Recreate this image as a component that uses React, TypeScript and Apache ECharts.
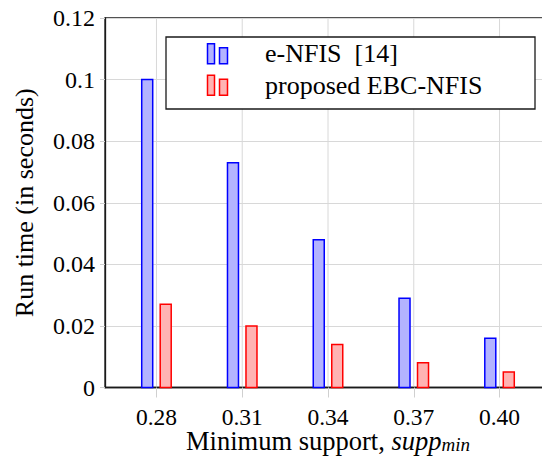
import React, { useEffect, useRef } from "react";
import * as echarts from "echarts";

const xLabels = ["0.28", "0.31", "0.34", "0.37", "0.40"];
const eNFIS = [0.1, 0.073, 0.048, 0.029, 0.016];
const ebcNFIS = [0.027, 0.02, 0.014, 0.008, 0.005];
const seriesNames = ["e-NFIS  [14]", "proposed EBC-NFIS"];
const yTitle = "Run time (in seconds)";
const yMax = 0.12;

const FONT = "Liberation Serif";

function makeRender(offset: number, fill: string, stroke: string) {
  return (params: any, api: any) => {
    const i = api.value(0);
    const v = api.value(1);
    const top = api.coord([i, v]);
    const base = api.coord([i, 0]);
    const w = 11;
    return {
      type: "rect",
      shape: { x: top[0] + offset - w / 2, y: top[1], width: w, height: base[1] - top[1] },
      style: { fill, stroke, lineWidth: 1.5 },
    };
  };
}

function renderGridLine(params: any, api: any) {
  const i = api.value(0);
  const top = api.coord([i, yMax]);
  const base = api.coord([i, 0]);
  return {
    type: "line",
    shape: { x1: top[0], y1: top[1], x2: base[0], y2: base[1] },
    style: { stroke: "#d8d8d8", lineWidth: 1 },
  };
}

const ICON = "path://M0,0H7V20H0Z M12,4H20V20H12Z";

export default function App() {
  const ref = useRef<HTMLDivElement>(null);
  useEffect(() => {
    if (!ref.current) return;
    const chart = echarts.init(ref.current, null, { renderer: "svg" });
    const ticks = xLabels.map((_, i) => i);
    chart.setOption({
      animation: false,
      textStyle: { fontFamily: FONT, color: "#000" },
      grid: {
        left: 105,
        top: 18,
        right: -9,
        bottom: 70.5,
        containLabel: false,
        outerBoundsMode: "none",
        show: true,
        borderColor: "#1a1a1a",
        borderWidth: 1.3,
        backgroundColor: "transparent",
      },
      xAxis: {
        type: "value",
        min: -0.6,
        max: 4.6,
        splitLine: { show: false },
        axisLine: { show: true, onZero: false, lineStyle: { color: "#1a1a1a", width: 1.3 } },
        axisTick: {
          show: true,
          customValues: ticks,
          length: 10,
          lineStyle: { color: "#d0d0d0", width: 1 },
        },
        axisLabel: {
          customValues: ticks,
          formatter: (v: number) => xLabels[Math.round(v)] ?? "",
          fontFamily: FONT,
          fontSize: 23.5,
          lineHeight: 16,
          color: "#000",
          margin: 21,
        },
        name: "{n|Minimum support, }{i|supp}{s|min}",
        nameLocation: "middle",
        nameGap: 43,
        nameMoveOverlap: false,
        nameTextStyle: {
          rich: {
            n: { fontFamily: FONT, fontSize: 26.5, lineHeight: 20, color: "#000" },
            i: { fontFamily: FONT, fontSize: 26.5, lineHeight: 20, fontStyle: "italic", color: "#000" },
            s: {
              fontFamily: FONT,
              fontSize: 19,
              lineHeight: 20,
              fontStyle: "italic",
              color: "#000",
              padding: [8, 0, 0, 0],
            },
          },
        },
      },
      yAxis: {
        type: "value",
        min: 0,
        max: yMax,
        interval: 0.02,
        axisLine: { show: true, onZero: false, lineStyle: { color: "#1a1a1a", width: 1.3 } },
        axisTick: { show: true, length: 5, lineStyle: { color: "#d0d0d0" } },
        splitLine: { show: true, lineStyle: { color: "#d8d8d8", width: 1 } },
        axisLabel: {
          fontFamily: FONT,
          fontSize: 24,
          color: "#000",
          margin: 10,
        },
        name: yTitle,
        nameLocation: "middle",
        nameGap: 67,
        nameMoveOverlap: false,
        nameTextStyle: { fontFamily: FONT, fontSize: 26, lineHeight: 28, color: "#000" },
      },
      legend: {
        orient: "vertical",
        left: 206.75,
        top: 38.15,
        padding: 0,
        itemGap: 0.5,
        itemWidth: 21,
        itemHeight: 20,
        selectedMode: false,
        z: 101,
        textStyle: {
          fontFamily: FONT,
          fontSize: 26,
          lineHeight: 21,
          color: "#000",
          padding: [10, 0, 0, 32],
        },
        data: [
          {
            name: seriesNames[0],
            icon: ICON,
            itemStyle: { color: "#b3b3ff", borderColor: "#0000ff", borderWidth: 1.5 },
          },
          {
            name: seriesNames[1],
            icon: ICON,
            itemStyle: { color: "#ffb3b3", borderColor: "#ff0000", borderWidth: 1.5 },
          },
        ],
      },
      graphic: {
        elements: [
          {
            type: "rect",
            z: 100,
            shape: { x: 166, y: 37, width: 369, height: 72 },
            style: { fill: "#fff", stroke: "#1a1a1a", lineWidth: 1.3 },
          },
        ],
      },
      series: [
        {
          name: "grid-x",
          type: "custom",
          z: 0,
          silent: true,
          renderItem: renderGridLine,
          data: ticks.map((t) => [t, 0]),
          encode: { x: 0, y: 1 },
        },
        {
          name: seriesNames[0],
          type: "custom",
          renderItem: makeRender(-9.25, "#b3b3ff", "#0000ff"),
          data: eNFIS.map((v, i) => [i, v]),
          encode: { x: 0, y: 1 },
          itemStyle: { color: "#b3b3ff", borderColor: "#0000ff" },
          silent: true,
        },
        {
          name: seriesNames[1],
          type: "custom",
          renderItem: makeRender(9.25, "#ffb3b3", "#ff0000"),
          data: ebcNFIS.map((v, i) => [i, v]),
          encode: { x: 0, y: 1 },
          itemStyle: { color: "#ffb3b3", borderColor: "#ff0000" },
          silent: true,
        },
      ],
    });
    return () => chart.dispose();
  }, []);
  return (
    <div
      ref={ref}
      style={{ position: "fixed", left: 0, top: 0, width: 542, height: 458, background: "#fff" }}
    />
  );
}
